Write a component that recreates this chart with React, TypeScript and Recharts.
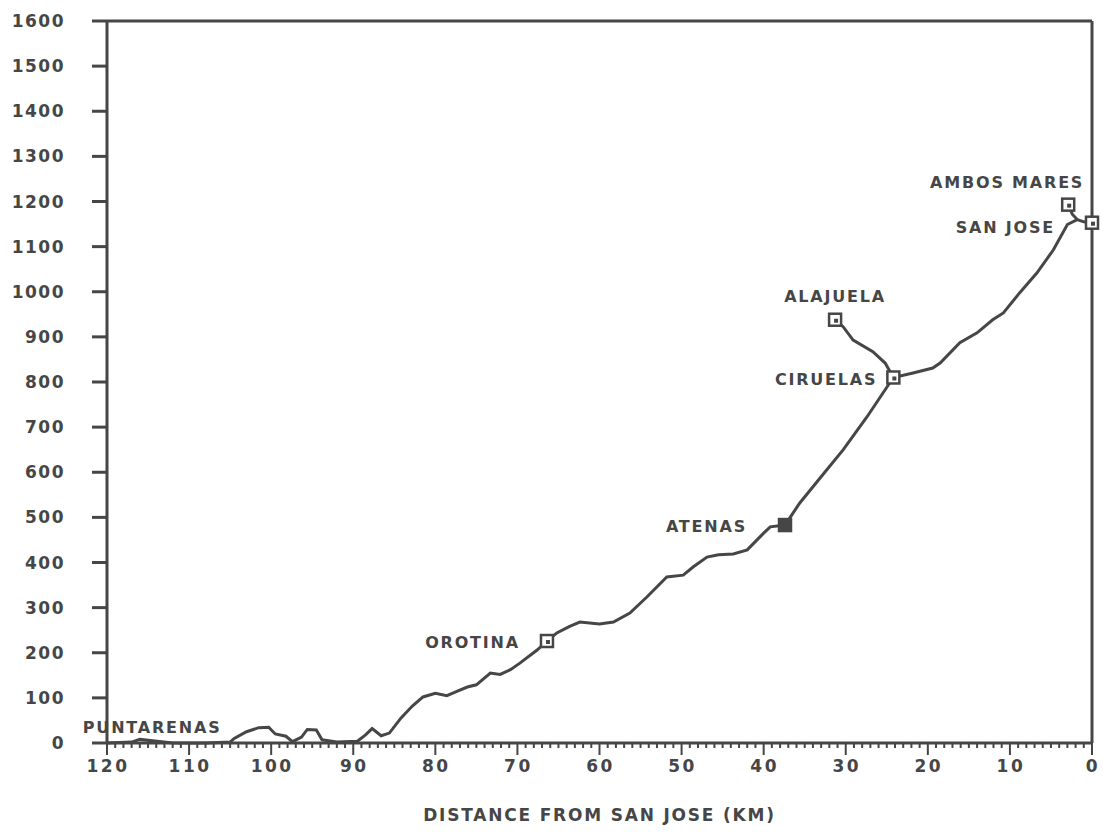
import { ComposedChart, Line, Scatter, XAxis, YAxis, ReferenceLine } from 'recharts';

// Elevation profile along the road (km from San Jose, metres)
const profileKm = [
  120, 117, 116, 112, 108, 105, 104.5, 103, 101.5, 100.3, 99.5, 98.2, 97.4, 96.3, 95.6, 94.5,
  93.8, 92, 89.5, 88.5, 87.7, 86.6, 85.6, 84.2, 82.8, 81.5, 80, 78.6, 77.3, 76.1, 75, 73.3,
  72.1, 70.8, 69.7, 67.6, 66.4, 65.2, 63.7, 62.4, 60, 58.3, 56.3, 54.2, 51.8, 49.8, 48.6,
  46.9, 45.5, 43.7, 42, 40, 39.2, 37.4, 35.6, 33, 30.3, 27.4, 24.2, 21.8, 19.4, 18.5, 16.1,
  14, 12.1, 10.8, 8.8, 6.7, 4.7, 3, 1.8, 1, 0,
];
const profileElev = [
  0, 2, 8, 0, 0, 2, 10, 25, 34, 35, 20, 15, 3, 13, 30, 29,
  7, 2, 4, 18, 32, 16, 22, 55, 82, 102, 110, 105, 115, 124, 129, 155,
  152, 163, 177, 206, 226, 244, 258, 268, 264, 268, 288, 324, 368, 372, 390,
  412, 417, 419, 428, 465, 479, 483, 532, 590, 650, 723, 810, 820, 831, 842, 887,
  909, 938, 953, 998, 1042, 1093, 1149, 1160, 1155, 1153,
];

// Branch to Alajuela
const alajuelaKm = [31.3, 30.3, 29.1, 26.7, 25.2, 24.2];
const alajuelaElev = [938, 922, 893, 867, 842, 810];

// Branch to Ambos Mares
const ambosKm = [2.9, 2.4, 1.8];
const ambosElev = [1193, 1172, 1160];

// Towns
const townNames = ['PUNTARENAS', 'OROTINA', 'ATENAS', 'CIRUELAS', 'ALAJUELA', 'SAN JOSE', 'AMBOS MARES'];
const townKm = [116, 66.4, 37.4, 24.2, 31.3, 0, 2.9];
const townElev = [8, 226, 483, 810, 938, 1153, 1193];

const yTicks = [0, 100, 200, 300, 400, 500, 600, 700, 800, 900, 1000, 1100, 1200, 1300, 1400, 1500, 1600];
const xMinorTicks = Array.from({ length: 121 }, (_, i) => i);

const profileData = profileKm.map((km, i) => ({ km, elev: profileElev[i] }));
const alajuelaData = alajuelaKm.map((km, i) => ({ km, elev: alajuelaElev[i] }));
const ambosData = ambosKm.map((km, i) => ({ km, elev: ambosElev[i] }));
const townData = townNames.map((name, i) => ({ name, km: townKm[i], elev: townElev[i] }));

const INK = '#464646';
const FONT = '"DejaVu Sans", sans-serif';

// label placement relative to the marker
const placement: Record<string, { dx: number; dy: number; anchor: string; marker: 'open' | 'filled' | 'none' }> = {
  PUNTARENAS: { dx: -57, dy: -12, anchor: 'start', marker: 'none' },
  OROTINA: { dx: -27, dy: 1, anchor: 'end', marker: 'open' },
  ATENAS: { dx: -38, dy: 1, anchor: 'end', marker: 'filled' },
  CIRUELAS: { dx: -16, dy: 2, anchor: 'end', marker: 'open' },
  ALAJUELA: { dx: 0, dy: -23, anchor: 'middle', marker: 'open' },
  'SAN JOSE': { dx: -37, dy: 5, anchor: 'end', marker: 'open' },
  'AMBOS MARES': { dx: 16, dy: -22, anchor: 'end', marker: 'open' },
};

const TownMarker = (props: any) => {
  const { cx, cy, payload } = props;
  const p = placement[payload.name];
  return (
    <g>
      {p.marker !== 'none' && (
        <g>
          <rect x={cx - 6} y={cy - 6} width={12} height={12} fill={p.marker === 'filled' ? INK : '#fff'} stroke={INK} strokeWidth={2.5} />
          {p.marker === 'open' && <rect x={cx - 1} y={cy - 1} width={4} height={4} fill={INK} />}
        </g>
      )}
      <text
        x={cx + p.dx}
        y={cy + p.dy}
        textAnchor={p.anchor as any}
        dominantBaseline="central"
        fill={INK}
        fontFamily={FONT}
        fontWeight="bold"
        fontSize={16}
        letterSpacing={1.8}
      >
        {payload.name}
      </text>
    </g>
  );
};

const XTick = (props: any) => {
  const { x, y, payload } = props;
  const major = payload.value % 10 === 0;
  return (
    <g>
      <line x1={x} y1={y} x2={x} y2={y + (major ? 12 : 5)} stroke={INK} strokeWidth={2} />
      {major && (
        <text x={x + 1} y={y + 23} textAnchor="middle" dominantBaseline="central" fill={INK} fontFamily={FONT} fontWeight="bold" fontSize={17} letterSpacing={2.5}>
          {payload.value}
        </text>
      )}
    </g>
  );
};

export default function App() {
  return (
    <div style={{ position: 'absolute', left: 0, top: 0, width: 1103, height: 839, background: '#fff' }}>
      <ComposedChart width={1103} height={839} margin={{ top: 21, right: 11, bottom: 0, left: 0 }}>
        <XAxis
          type="number"
          dataKey="km"
          domain={[0, 120]}
          reversed
          ticks={xMinorTicks}
          interval={0}
          tickSize={0}
          tickMargin={0}
          tickLine={false}
          tick={<XTick />}
          height={96}
          axisLine={{ stroke: INK, strokeWidth: 3 }}
          label={{ value: 'DISTANCE FROM SAN JOSE (KM)', position: 'insideBottom', offset: 18, fill: INK, fontFamily: FONT, fontWeight: 'bold', fontSize: 17, letterSpacing: 1.8 }}
        />
        <YAxis
          type="number"
          dataKey="elev"
          domain={[0, 1600]}
          ticks={yTicks}
          interval={0}
          width={107}
          tickSize={15}
          tickMargin={27}
          axisLine={{ stroke: INK, strokeWidth: 3 }}
          tickLine={{ stroke: INK, strokeWidth: 3 }}
          tick={{ fill: INK, fontFamily: FONT, fontWeight: 'bold', fontSize: 17, letterSpacing: 1.5 }}
        />
        <ReferenceLine y={1600} stroke={INK} strokeWidth={3} />
        <ReferenceLine x={0} stroke={INK} strokeWidth={3} />
        <Line data={profileData} dataKey="elev" type="linear" stroke={INK} strokeWidth={3} dot={false} isAnimationActive={false} />
        <Line data={alajuelaData} dataKey="elev" type="linear" stroke={INK} strokeWidth={3} dot={false} isAnimationActive={false} />
        <Line data={ambosData} dataKey="elev" type="linear" stroke={INK} strokeWidth={3} dot={false} isAnimationActive={false} />
        <Scatter data={townData} dataKey="elev" shape={<TownMarker />} isAnimationActive={false} />
      </ComposedChart>
    </div>
  );
}
